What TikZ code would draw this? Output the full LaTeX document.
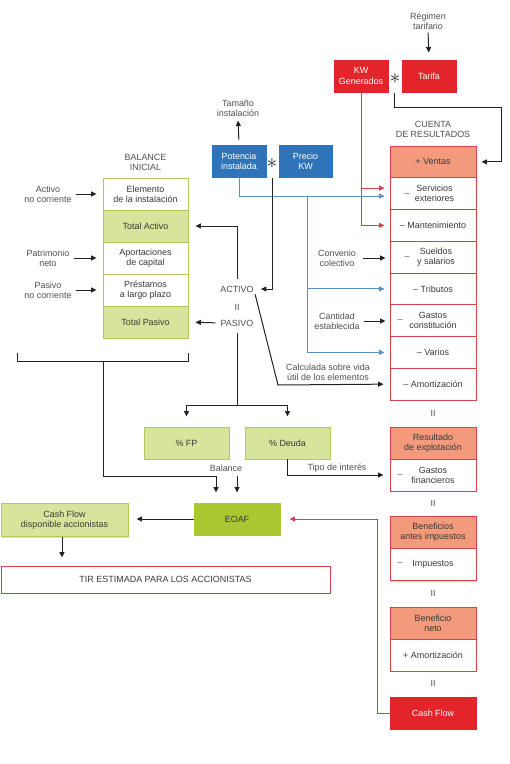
\documentclass[tikz,border=0pt]{standalone}
\usepackage{fontspec}
\setmainfont{Liberation Sans}
\usetikzlibrary{arrows.meta,shadows}
\definecolor{kred}{HTML}{E3242B}
\definecolor{kline}{HTML}{D8414A}
\definecolor{ksalmon}{HTML}{F39A7C}
\definecolor{kblue}{HTML}{2F73B8}
\definecolor{kbluel}{HTML}{5A8FC8}
\definecolor{kgreen}{HTML}{D7E49B}
\definecolor{gline}{HTML}{B3C95A}
\definecolor{keoaf}{HTML}{A8C731}
\definecolor{txt}{HTML}{3A3A3A}
\definecolor{ltxt}{HTML}{505050}
\definecolor{kdark}{HTML}{222222}
\tikzset{
  box/.style={draw, inner sep=1bp, align=center, minimum height=32bp, text=txt, line width=0.9bp,
    drop shadow={shadow xshift=1.3bp, shadow yshift=-1.3bp, opacity=0.25}},
  redbox/.style={box, fill=kred, draw=kred, text=white, minimum width=54bp},
  bluebox/.style={box, fill=kblue, draw=kblue, text=white, minimum width=54bp},
  crow/.style={box, fill=white, draw=kline, minimum width=86bp, minimum height=31.75bp},
  chead/.style={crow, fill=ksalmon},
  gwbox/.style={box, fill=white, draw=gline, minimum width=85bp},
  gfill/.style={box, fill=kgreen, draw=gline, minimum width=85bp},
  lbl/.style={text=ltxt, align=center, inner sep=1bp},
  eqs/.style={text=ltxt, inner sep=0.5bp},
  starn/.style={text=kdark, inner sep=0},
  arr/.style={-{Triangle[length=5.5bp,width=5bp]}, line width=1bp, draw=kdark},
  barr/.style={arr, draw=kbluel},
  rarr/.style={arr, draw=kline},
  ln/.style={line width=1bp, draw=kdark}
}
\begin{document}
\begin{tikzpicture}[x=1bp,y=-1bp, font=\fontsize{9}{10.2}\selectfont]
\useasboundingbox (0,0) rectangle (510,764);

% top red
\node[lbl] (reg) at (428,21) {Régimen\\tarifario};
\node[redbox] (kw) at (361,76) {KW\\Generados};
\node[redbox] (tf) at (429,76) {Tarifa};
\node[starn] (st1) at (395,79) {\fontsize{20}{20}\selectfont$\ast$};
\coordinate (t1) at (394,93);
\coordinate (t2) at (501,107);

% blue
\node[lbl] (tam) at (238,108) {Tamaño\\instalación};
\node[bluebox] (pot) at (239,161) {Potencia\\instalada};
\node[bluebox, minimum width=53bp] (pk) at (305.5,161) {Precio\\KW};
\node[starn] (st2) at (272,164) {\fontsize{20}{20}\selectfont$\ast$};
\coordinate (s2) at (272,178);
\coordinate (bj) at (307,196);

% cuenta de resultados
\node[lbl] (cr) at (433,129) {CUENTA\\DE RESULTADOS};
\node[chead] (ve) at (433,161.9) {+ Ventas};
\node[crow] (sv) at (433,193.6) {\hspace*{3bp}Servicios\\\hspace*{3bp}exteriores};
\node[crow] (mt) at (433,225.4) {– Mantenimiento};
\node[crow] (su) at (433,257.1) {\hspace*{6bp}Sueldos\\\hspace*{6bp}y salarios};
\node[crow] (tr) at (433,288.9) {– Tributos};
\node[crow] (gc) at (433,320.6) {Gastos\\constitución};
\node[crow] (va) at (433,352.4) {– Varios};
\node[crow] (am) at (433,384.1) {– Amortización};
\node[eqs] (m1) at (407,195) {–};
\node[eqs] (m2) at (407,258) {–};
\node[eqs] (m3) at (400,321) {–};
\node[eqs] (e1) at (433,413) {II};

\node[chead, minimum height=32bp] (re) at (433,443) {Resultado\\de explotación};
\node[crow, minimum height=32bp] (gf) at (433,475) {Gastos\\financieros};
\node[eqs] (m4) at (400,476) {–};
\node[eqs] (e2) at (433,503) {II};
\node[chead, minimum height=32bp] (bai) at (433,532.5) {Beneficios\\antes impuestos};
\node[crow, minimum height=32bp] (im) at (433,564.5) {Impuestos};
\node[eqs] (m5) at (400,564.5) {–};
\node[eqs] (e3) at (433,593) {II};
\node[chead, minimum height=32bp] (bn) at (433,623) {Beneficio\\neto};
\node[crow, minimum height=32bp] (am2) at (433,655) {+ Amortización};
\node[eqs] (e4) at (433,683) {II};
\node[redbox, minimum width=86bp] (cfr) at (433,713) {Cash Flow};

% balance inicial
\node[lbl] (bi) at (145.5,162) {BALANCE\\INICIAL};
\node[gwbox] (el) at (145.5,194) {Elemento\\de la instalación};
\node[gfill] (ta) at (145.5,226) {Total Activo};
\node[gwbox] (ap) at (145.5,258) {Aportaciones\\de capital};
\node[gwbox] (pr) at (145.5,290) {Préstamos\\a largo plazo};
\node[gfill] (tp) at (145.5,322) {Total Pasivo};
\node[lbl] (anc) at (48,194) {Activo\\no corriente};
\node[lbl] (pn) at (48,258) {Patrimonio\\neto};
\node[lbl] (pnc) at (48,290) {Pasivo\\no corriente};

% middle labels
\node[lbl] (act) at (237,289) {ACTIVO};
\node[eqs] (eqm) at (237,307) {II};
\node[lbl] (pas) at (237,323) {PASIVO};
\node[lbl] (cc) at (337,258) {Convenio\\colectivo};
\node[lbl] (ce) at (337,321) {Cantidad\\establecida};
\node[lbl] (calc) at (328,372.5) {Calculada sobre vida\\útil de los elementos};
\coordinate (dg) at (278,385);
\coordinate (pj) at (237,405);

% lower
\node[gfill] (fp) at (186.5,443) {\% FP};
\node[gfill] (de) at (287.5,443) {\% Deuda};
\node[lbl] (bal) at (226,468) {Balance};
\node[lbl] (tipo) at (337,468) {Tipo de interés};
\node[box, fill=keoaf, draw=keoaf, minimum width=86bp] (eo) at (237,519) {EOAF};
\node[gfill, minimum width=127bp, minimum height=33bp] (cf) at (64.5,520) {Cash Flow\\disponible accionistas};
\node[box, fill=white, draw=kline, minimum width=329bp, minimum height=27bp] (tir) at (165.5,579.5) {TIR ESTIMADA PARA LOS ACCIONISTAS};
\coordinate (bl) at (17,353);
\coordinate (br) at (188,353);
\coordinate (bm) at (103,361);
\coordinate (bk) at (216,476);
\coordinate (bk2) at (237,476);

% connectors: top
\draw[arr, shorten <=2bp, shorten >=7bp] (reg.south) -- (tf.north);
\draw[arr, shorten >=5bp] (t1) -- (t1 |- t2) -- (t2) |- (ve.east);
\draw[rarr, shorten >=5bp] (kw.south) |- ([yshift=5.5bp]sv.west);
\draw[rarr, shorten >=5bp] (kw.south) |- (mt.west);
\draw[arr, shorten <=5bp, shorten >=3bp] (pot.north) -- (tam.south);
\draw[barr, shorten >=5bp] (pot.south) |- ([yshift=-2.5bp]sv.west);
\draw[barr, shorten >=5bp] (bj) |- (tr.west);
\draw[barr, shorten >=5bp] (bj) |- (va.west);
\draw[arr, shorten >=6bp] (s2) |- (act.east);

% balance side
\draw[arr, shorten <=3bp, shorten >=6bp] (anc.east) -- (anc.east -| el.west);
\draw[arr, shorten <=3bp, shorten >=6bp] (pn.east) -- (pn.east -| ap.west);
\draw[arr, shorten <=3bp, shorten >=6bp] (pnc.east) -- (pnc.east -| pr.west);
\draw[arr, shorten <=6bp, shorten >=7bp] (act.north) |- (ta.east);
\draw[arr, shorten <=4bp, shorten >=7bp] (pas.west) -- (tp.east);
\draw[arr, shorten <=6bp, shorten >=4bp] (cc.east) -- (cc.east -| su.west);
\draw[arr, shorten <=3bp, shorten >=4bp] (ce.east) -- (ce.east -| gc.west);
\draw[arr, shorten <=1bp, shorten >=6bp] (act.south east) -- (dg) -- (am.west);

% lower connectors
\draw[ln, shorten <=6bp] (pas.south) -- (pj);
\draw[arr, shorten >=10bp] (pj) -| (fp.north);
\draw[arr, shorten >=10bp] (pj) -| (de.north);
\draw[arr, shorten >=6bp] (de.south) |- (gf.west);
\draw[ln] (bl) -- (bl |- bm) -- (br |- bm) -- (br);
\draw[arr, shorten >=10bp] (bm) |- (bk) -- (bk |- eo.north);
\draw[arr, shorten >=10bp] (bk2) -- (bk2 |- eo.north);
\draw[arr, shorten >=8bp] (eo.west) -- (eo.west -| cf.east);
\draw[arr, shorten >=8bp] (cf.south -| 62,0) -- (tir.north -| 62,0);
\draw[rarr, shorten >=9bp] (cfr.west) -- ++(-12,0) |- (eo.east);
\end{tikzpicture}
\end{document}
